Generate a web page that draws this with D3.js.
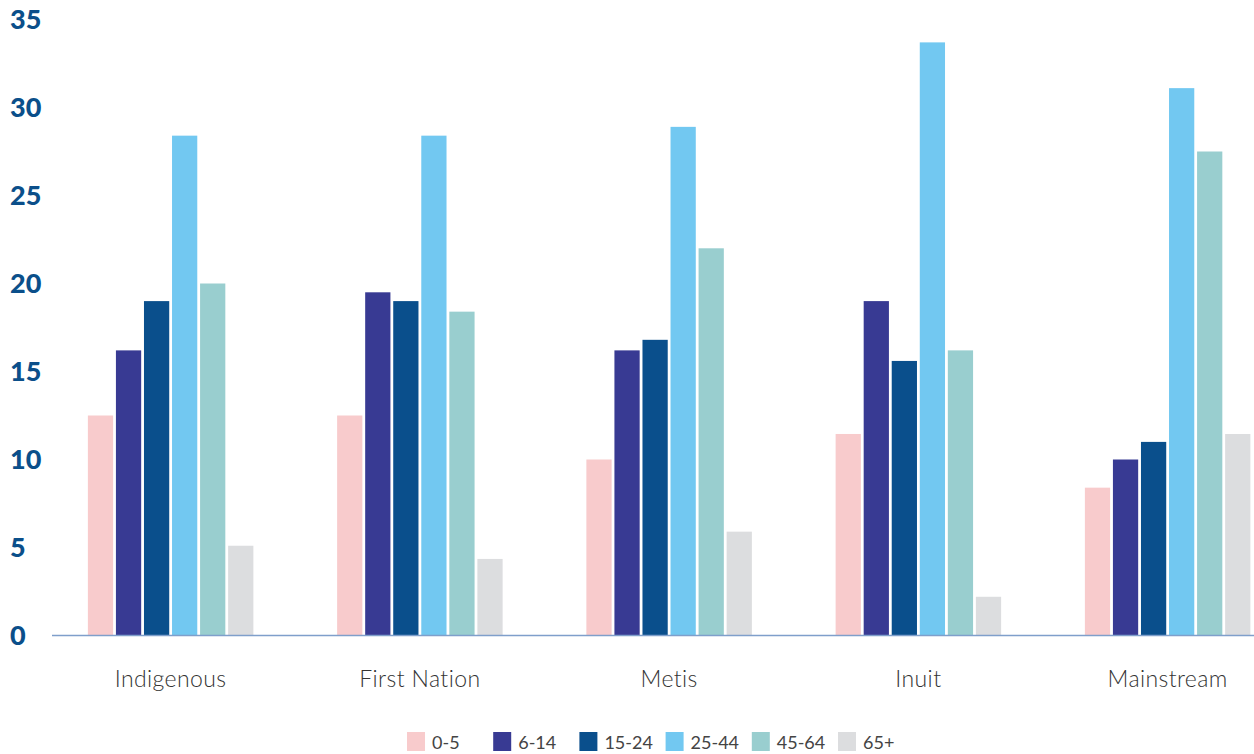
<!DOCTYPE html>
<html>
<head>
<meta charset="utf-8">
<script src="https://cdn.jsdelivr.net/npm/d3@7"></script>
<style>
  html, body { margin: 0; padding: 0; background: #fff; }
  svg { display: block; }
</style>
</head>
<body>
<svg id="chart" width="1254" height="754" viewBox="0 0 1254 754"></svg>
<script>
const categories = ["Indigenous", "First Nation", "Metis", "Inuit", "Mainstream"];
const seriesNames = ["0-5", "6-14", "15-24", "25-44", "45-64", "65+"];
const s0_5   = [12.5, 12.5, 10.0, 11.45, 8.4];
const s6_14  = [16.2, 19.5, 16.2, 19.0, 10.0];
const s15_24 = [19.0, 19.0, 16.8, 15.6, 11.0];
const s25_44 = [28.4, 28.4, 28.9, 33.7, 31.1];
const s45_64 = [20.0, 18.4, 22.0, 16.2, 27.5];
const s65    = [5.1, 4.35, 5.9, 2.2, 11.45];
const yTicks = [0, 5, 10, 15, 20, 25, 30, 35];
const colors = ["#f8cbcc", "#383a93", "#0a4f8c", "#72c8f1", "#99cecf", "#dcdddf"];

const seriesValues = [s0_5, s6_14, s15_24, s25_44, s45_64, s65];

const svg = d3.select("#chart");
const axisY = 635.5;

const y = d3.scaleLinear().domain([0, 35]).range([axisY, 19.5]);

const x0 = d3.scaleBand()
  .domain(categories)
  .range([46, 46 + 249.25 * 5])
  .paddingInner(0)
  .paddingOuter(0);

const innerWidth = 165.5;
const x1 = d3.scaleBand()
  .domain(seriesNames)
  .range([0, innerWidth])
  .paddingInner(0.1)
  .paddingOuter(0);

// bars
categories.forEach((cat, ci) => {
  const g = svg.append("g")
    .attr("transform", `translate(${x0(cat) + (x0.bandwidth() - innerWidth) / 2},0)`);
  seriesNames.forEach((s, si) => {
    const v = seriesValues[si][ci];
    g.append("rect")
      .attr("x", x1(s))
      .attr("y", y(v))
      .attr("width", x1.bandwidth())
      .attr("height", axisY - y(v))
      .attr("fill", colors[si]);
  });
});

// baseline
svg.append("line")
  .attr("x1", 52).attr("x2", 1254)
  .attr("y1", axisY).attr("y2", axisY)
  .attr("stroke", "#7f9fcb")
  .attr("stroke-width", 1.5);

// y tick labels
svg.append("g").selectAll("text")
  .data(yTicks)
  .join("text")
  .attr("x", 10)
  .attr("y", d => y(d))
  .attr("dy", "0.36em")
  .attr("font-family", "Lato, 'Open Sans', sans-serif")
  .attr("font-weight", "900")
  .attr("font-size", 27)
  .attr("fill", "#0b4f8a")
  .text(d => d);

// category labels
svg.append("g").selectAll("text")
  .data(categories)
  .join("text")
  .attr("x", d => x0(d) + x0.bandwidth() / 2)
  .attr("y", 687)
  .attr("text-anchor", "middle")
  .attr("font-family", "Lato, 'Open Sans', sans-serif")
  .attr("font-weight", "300")
  .attr("font-size", 23)
  .attr("letter-spacing", "0.4px")
  .attr("fill", "#333")
  .text(d => d);

// legend
const legend = svg.append("g");
seriesNames.forEach((s, i) => {
  const lx = 407 + i * 86.2;
  legend.append("rect")
    .attr("x", lx).attr("y", 732)
    .attr("width", 18).attr("height", 19)
    .attr("fill", colors[i]);
  legend.append("text")
    .attr("x", lx + 25)
    .attr("y", 749)
    .attr("font-family", "Lato, 'Open Sans', sans-serif")
    .attr("font-size", 18)
    .attr("fill", "#444")
    .text(s);
});
</script>
</body>
</html>
